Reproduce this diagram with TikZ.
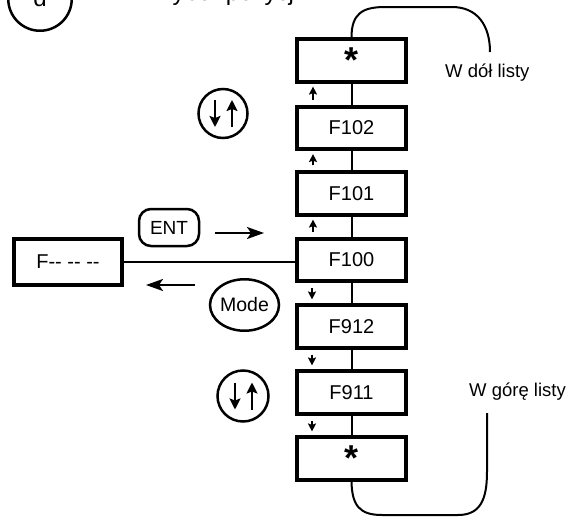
\documentclass[tikz,border=0pt]{standalone}
\usepackage{fontspec}
\setmainfont{Liberation Sans}
\usetikzlibrary{arrows.meta,shapes.geometric}
\begin{document}
\begin{tikzpicture}[x=1pt,y=-1pt,
  fbox/.style={draw,line width=3.6pt,minimum width=109.5pt,minimum height=42.5pt,inner sep=0pt,font=\fontsize{20}{24}\selectfont},
  keyc/.style={draw,circle,line width=2.5pt,inner sep=0pt},
  lbl/.style={anchor=base west,inner sep=0pt,font=\fontsize{18.5}{22}\selectfont},
  conn/.style={line width=2pt},
  sarr/.style={line width=2pt,-{Stealth[length=8pt,width=8pt,inset=1.5pt]}},
  barr/.style={line width=2.2pt,-{Stealth[length=17pt,width=12pt,inset=4pt]}},
  udarr/.style={line width=2.6pt,-{Stealth[length=11pt,width=11pt,inset=2pt]}}
]
\useasboundingbox (0,0) rectangle (566,517);

% top (clipped) heading
\node[keyc,minimum size=63.5pt,font=\fontsize{24}{28}\selectfont] (stepd) at (40,-1) {\raisebox{3pt}{d}};
\node[anchor=base west,inner sep=0pt,font=\fontsize{24}{28}\selectfont] (head) at (150,0) {Wybór pozycji};

% column of boxes
\node[fbox] (s1) at (351.5,60.5) {\smash{\raisebox{-0.62em}{\fontsize{36}{36}\selectfont\bfseries *}}};
\node[fbox] (f102) at (351.5,128) {F102};
\node[fbox] (f101) at (351.5,193.5) {F101};
\node[fbox] (f100) at (351.5,260) {F100};
\node[fbox] (f912) at (351.5,326.5) {F912};
\node[fbox] (f911) at (351.5,392.5) {F911};
\node[fbox] (s2) at (351.5,458.5) {\smash{\raisebox{-0.62em}{\fontsize{36}{36}\selectfont\bfseries *}}};

\draw[conn] (s1) -- (f102);
\draw[conn] (f102) -- (f101);
\draw[conn] (f101) -- (f100);
\draw[conn] (f100) -- (f912);
\draw[conn] (f912) -- (f911);
\draw[conn] (f911) -- (s2);

% small direction arrows
\draw[sarr,shorten <=5pt,shorten >=3pt] ([xshift=-38.5pt]f102.north) -- ([xshift=-38.5pt]s1.south);
\draw[sarr,shorten <=5pt,shorten >=3pt] ([xshift=-38.5pt]f101.north) -- ([xshift=-38.5pt]f102.south);
\draw[sarr,shorten <=5pt,shorten >=3pt] ([xshift=-38.5pt]f100.north) -- ([xshift=-38.5pt]f101.south);
\draw[sarr,shorten <=5pt,shorten >=4pt] ([xshift=-39.5pt]f100.south) -- ([xshift=-39.5pt]f912.north);
\draw[sarr,shorten <=5pt,shorten >=4pt] ([xshift=-39.5pt]f912.south) -- ([xshift=-39.5pt]f911.north);
\draw[sarr,shorten <=5pt,shorten >=4pt] ([xshift=-39.5pt]f911.south) -- ([xshift=-39.5pt]s2.north);

% left box
\node[fbox,minimum width=108.5pt,minimum height=45.5pt] (fdash) at (68,262) {F-{}- -{}- -{}-};
\draw[conn] (fdash) -- (f100.west |- fdash);

% ENT and Mode keys
\node[draw,line width=2.5pt,rounded corners=12pt,minimum width=60pt,minimum height=37pt,inner sep=0pt,font=\fontsize{19}{22}\selectfont] (ent) at (169,227.5) {ENT};
\coordinate (enta) at (215,233);
\coordinate (entb) at (264,233);
\draw[barr] (enta) -- (entb);

\node[draw,ellipse,line width=2.5pt,minimum width=62pt,minimum height=51.5pt,inner sep=0pt,font=\fontsize{19.5}{22}\selectfont] (mode) at (244.5,305) {Mode};
\coordinate (modea) at (195,285);
\coordinate (modeb) at (146,285);
\draw[barr] (modea) -- (modeb);

% up/down keys
\node[keyc,minimum size=49pt] (ud1) at (223,113.5) {};
\draw[udarr] ([xshift=-8pt,yshift=13.5pt]ud1.center) -- ([xshift=-8pt,yshift=-13.5pt]ud1.center);
\draw[udarr] ([xshift=9pt,yshift=-13.5pt]ud1.center) -- ([xshift=9pt,yshift=13.5pt]ud1.center);

\node[keyc,minimum size=51pt] (ud2) at (243,396) {};
\draw[udarr] ([xshift=-8pt,yshift=13.5pt]ud2.center) -- ([xshift=-8pt,yshift=-13.5pt]ud2.center);
\draw[udarr] ([xshift=9pt,yshift=-13.5pt]ud2.center) -- ([xshift=9pt,yshift=13.5pt]ud2.center);

% wrap-around loops
\coordinate (dend) at (490,52);
\draw[conn] (s1.north) .. controls (351.5,14) and (362,7) .. (385,7) -- (452,7) .. controls (477,7) and (490,25) .. (dend);
\node[lbl] (ldown) at (445,77) {W dół listy};

\coordinate (gend) at (487,413);
\draw[conn] (s2.south) .. controls (352,506) and (360,515) .. (382,515) -- (458,515) .. controls (480,515) and (487,500) .. (487,472) -- (gend);
\node[lbl] (lup) at (469,396.5) {W górę listy};
\end{tikzpicture}
\end{document}
